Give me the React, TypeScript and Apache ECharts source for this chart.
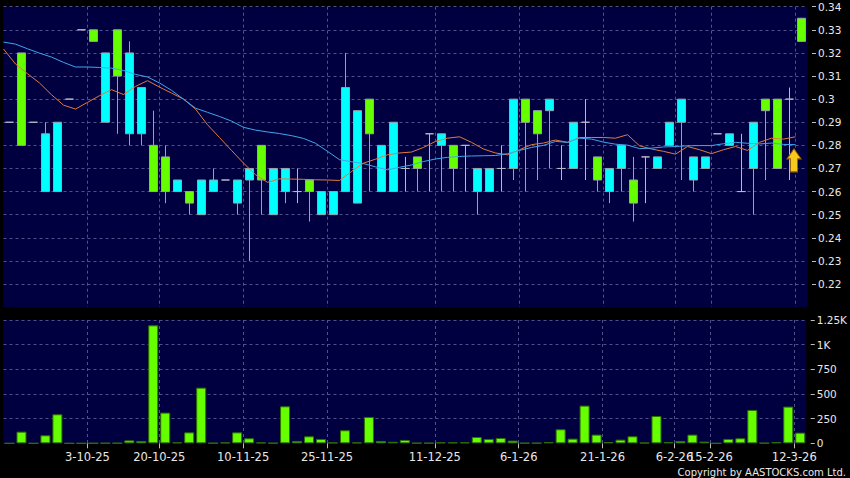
import React, { useEffect, useRef } from 'react';
import * as echarts from 'echarts';

// ---- data ----
const candleOpen = [
  0.29, 0.28, 0.29, 0.285, 0.29, 0.30, 0.33, 0.325, 0.32, 0.31,
  0.32, 0.305, 0.26, 0.26, 0.265, 0.255, 0.265, 0.265, 0.265, 0.265,
  0.27, 0.265, 0.27, 0.27, 0.26, 0.26, 0.26, 0.26, 0.305, 0.295,
  0.285, 0.28, 0.29, 0.27, 0.27, 0.285, 0.285, 0.27, 0.28, 0.27,
  0.27, 0.27, 0.30, 0.29, 0.285, 0.30, 0.27, 0.29, 0.29, 0.265,
  0.27, 0.28, 0.255, 0.275, 0.275, 0.29, 0.30, 0.275, 0.275, 0.285,
  0.285, 0.26, 0.29, 0.295, 0.27, 0.30, 0.325,
];
const candleClose = [
  0.29, 0.32, 0.29, 0.26, 0.26, 0.30, 0.33, 0.33, 0.29, 0.33,
  0.285, 0.285, 0.28, 0.275, 0.26, 0.26, 0.25, 0.26, 0.265, 0.255,
  0.265, 0.28, 0.25, 0.26, 0.26, 0.265, 0.25, 0.25, 0.26, 0.255,
  0.30, 0.26, 0.26, 0.27, 0.275, 0.285, 0.28, 0.28, 0.28, 0.26,
  0.26, 0.27, 0.27, 0.30, 0.295, 0.295, 0.27, 0.27, 0.29, 0.275,
  0.26, 0.27, 0.265, 0.275, 0.27, 0.28, 0.29, 0.265, 0.27, 0.285,
  0.28, 0.26, 0.27, 0.30, 0.30, 0.30, 0.335,
];
const candleLow = [
  0.29, 0.28, 0.29, 0.26, 0.26, 0.30, 0.33, 0.325, 0.29, 0.285,
  0.28, 0.28, 0.26, 0.255, 0.26, 0.25, 0.25, 0.26, 0.265, 0.25,
  0.23, 0.25, 0.25, 0.255, 0.255, 0.247, 0.25, 0.25, 0.26, 0.255,
  0.26, 0.26, 0.26, 0.26, 0.26, 0.26, 0.26, 0.26, 0.26, 0.25,
  0.26, 0.26, 0.265, 0.26, 0.265, 0.27, 0.265, 0.27, 0.265, 0.26,
  0.255, 0.26, 0.247, 0.255, 0.27, 0.28, 0.265, 0.26, 0.27, 0.285,
  0.28, 0.26, 0.25, 0.265, 0.27, 0.265, 0.325,
];
const candleHigh = [
  0.29, 0.32, 0.29, 0.29, 0.29, 0.30, 0.33, 0.33, 0.32, 0.33,
  0.325, 0.305, 0.295, 0.28, 0.265, 0.26, 0.265, 0.27, 0.265, 0.265,
  0.27, 0.28, 0.27, 0.27, 0.27, 0.265, 0.26, 0.26, 0.32, 0.295,
  0.30, 0.28, 0.29, 0.275, 0.275, 0.285, 0.285, 0.28, 0.28, 0.27,
  0.27, 0.28, 0.30, 0.30, 0.295, 0.30, 0.28, 0.29, 0.30, 0.275,
  0.27, 0.28, 0.275, 0.275, 0.275, 0.29, 0.30, 0.275, 0.275, 0.285,
  0.285, 0.285, 0.29, 0.30, 0.30, 0.305, 0.335,
];
const volume = [
  0, 118, 0, 81, 294, 0, 0, 1, 2, 2,
  30, 24, 1196, 311, 10, 111, 564, 2, 8, 111,
  51, 8, 3, 375, 24, 71, 44, 8, 132, 8,
  267, 24, 15, 34, 3, 3, 10, 10, 10, 64,
  44, 54, 27, 3, 3, 12, 142, 47, 382, 88,
  12, 37, 71, 6, 277, 12, 24, 88, 17, 0,
  44, 51, 338, 3, 12, 372, 108,
];
const maFast = [
  0.3217, 0.3152, 0.311, 0.307, 0.3019, 0.2974, 0.2957, 0.2986, 0.3015, 0.3041,
  0.302, 0.3055, 0.308, 0.3052, 0.3026, 0.30, 0.2957, 0.2889, 0.2834, 0.2778,
  0.2723, 0.2673, 0.264, 0.2655, 0.2654, 0.2653, 0.2651, 0.265, 0.2648, 0.2687,
  0.2723, 0.274, 0.2759, 0.2767, 0.2771, 0.2791, 0.2817, 0.2831, 0.2837, 0.2813,
  0.2784, 0.2767, 0.2759, 0.2781, 0.2803, 0.281, 0.2823, 0.2813, 0.2834, 0.2834,
  0.2834, 0.2831, 0.2846, 0.2798, 0.2784, 0.2774, 0.2762, 0.2795, 0.2781, 0.2764,
  0.2781, 0.2795, 0.2778, 0.2813, 0.2831, 0.2827, 0.2837,
];
const maSlow = [
  0.3247, 0.3238, 0.3218, 0.3199, 0.3182, 0.3159, 0.3139, 0.3139, 0.3137, 0.3134,
  0.3124, 0.3107, 0.3096, 0.307, 0.3038, 0.30, 0.2961, 0.2943, 0.2925, 0.2905,
  0.2878, 0.2866, 0.2858, 0.2851, 0.2842, 0.283, 0.2809, 0.2774, 0.2738, 0.2729,
  0.2721, 0.2707, 0.2694, 0.2705, 0.2715, 0.273, 0.2741, 0.2748, 0.2752, 0.2754,
  0.2755, 0.2756, 0.2764, 0.2778, 0.2791, 0.28, 0.2817, 0.2813, 0.2831, 0.2827,
  0.2814, 0.2805, 0.2801, 0.2786, 0.2788, 0.2793, 0.2795, 0.2798, 0.2799, 0.2799,
  0.2807, 0.2813, 0.2809, 0.2806, 0.281, 0.2804, 0.2803,
];
const dateTickIndex = [7, 13, 20, 27, 36, 43, 50, 56, 59, 66];
const dateTickLabels = ['3-10-25', '20-10-25', '10-11-25', '25-11-25', '11-12-25', '6-1-26', '21-1-26', '6-2-26', '15-2-26', '12-3-26'];
const signalIndex = 65;
const signalPrice = 0.2735;
const copyright = 'Copyright by AASTOCKS.com Ltd.';

const FONT = 'DejaVu Sans';
const GRID_LINE = { color: '#50508a', width: 1, type: [3, 3] as number[] };
const NAVY = '#000040';

export default function App() {
  const ref = useRef<HTMLDivElement>(null);

  useEffect(() => {
    if (!ref.current) return;
    const chart = echarts.init(ref.current, undefined, { renderer: 'svg' });

    const sessions = candleOpen.map((_, i) => 'S' + i);
    const bounds = [...sessions, 'S' + sessions.length];
    const isDateTick = (i: number) => dateTickIndex.indexOf(i) >= 0;

    const boundaryAxis = (gridIndex: number, withLabels: boolean) => ({
      type: 'category',
      gridIndex,
      position: 'bottom',
      data: bounds,
      boundaryGap: false,
      axisLine: { show: false },
      axisTick: {
        show: withLabels,
        length: 5,
        interval: (i: number) => isDateTick(i),
        lineStyle: { color: '#bdbdbd' },
      },
      axisLabel: {
        show: withLabels,
        interval: (i: number) => isDateTick(i),
        formatter: (_v: string, i: number) => {
          const j = dateTickIndex.indexOf(i);
          return j >= 0 ? dateTickLabels[j] : '';
        },
        color: '#e8e8e8',
        fontFamily: FONT,
        fontSize: 11.5,
        margin: 8,
      },
      splitLine: { show: true, interval: (i: number) => isDateTick(i), lineStyle: GRID_LINE },
    });

    const yAxisCommon = {
      type: 'value',
      position: 'right',
      offset: 4.5,
      axisLine: { show: false },
      axisTick: { show: true, length: 4, lineStyle: { color: '#bdbdbd' } },
      splitLine: { show: true, showMinLine: false, lineStyle: GRID_LINE },
    };

    chart.setOption({
      animation: false,
      backgroundColor: '#000000',
      grid: [
        { left: 3.5, top: 6.7, width: 804, height: 300.4, show: true, backgroundColor: NAVY, borderWidth: 0 },
        { left: 3.5, top: 320, width: 804, height: 123.3, show: true, backgroundColor: NAVY, borderWidth: 0 },
      ],
      xAxis: [
        { type: 'category', gridIndex: 0, position: 'bottom', data: sessions, boundaryGap: true, show: false },
        { type: 'category', gridIndex: 1, position: 'bottom', data: sessions, boundaryGap: true, show: false },
        boundaryAxis(0, false),
        boundaryAxis(1, true),
      ],
      yAxis: [
        {
          ...yAxisCommon,
          gridIndex: 0,
          min: 0.21,
          max: 0.34,
          interval: 0.01,
          axisLabel: {
            showMinLabel: false,
            color: '#e8e8e8',
            fontFamily: FONT,
            fontSize: 10.5,
            margin: 6,
            formatter: (v: number) => String(Math.round(v * 100) / 100),
          },
        },
        {
          ...yAxisCommon,
          gridIndex: 1,
          min: 0,
          max: 1250,
          interval: 250,
          axisLabel: {
            color: '#e8e8e8',
            fontFamily: FONT,
            fontSize: 10.5,
            margin: 6,
            formatter: (v: number) => (v >= 1000 ? v / 1000 + 'K' : String(v)),
          },
        },
      ],
      series: [
        {
          type: 'candlestick',
          xAxisIndex: 0,
          yAxisIndex: 0,
          barWidth: 9,
          data: candleOpen.map((o, i) => [o, candleClose[i], candleLow[i], candleHigh[i]]),
          itemStyle: {
            color: '#66ff00',
            color0: '#00ffff',
            borderColor: '#98a4a8',
            borderColor0: '#98a4a8',
            borderColorDoji: '#b8b8c8',
            borderWidth: 1,
          },
          markPoint: {
            symbol: 'path://M7,0 L14,10 L10.5,10 L10.5,23 L3.5,23 L3.5,10 L0,10 Z',
            symbolSize: [14, 23],
            symbolOffset: [4.5, 0],
            label: { show: false },
            itemStyle: {
              color: '#f8c81c',
              borderColor: '#9a6400',
              borderWidth: 1,
            },
            data: [{ coord: [signalIndex, signalPrice] }],
          },
        },
        {
          type: 'line',
          xAxisIndex: 2,
          yAxisIndex: 0,
          data: maFast,
          symbol: 'none',
          lineStyle: { color: '#e07a40', width: 1 },
        },
        {
          type: 'line',
          xAxisIndex: 2,
          yAxisIndex: 0,
          data: maSlow,
          symbol: 'none',
          lineStyle: { color: '#3fa6ea', width: 1 },
        },
        {
          type: 'bar',
          xAxisIndex: 1,
          yAxisIndex: 1,
          barWidth: 10,
          data: volume,
          itemStyle: { color: '#66ff00', borderColor: '#2f7000', borderWidth: 1 },
        },
      ],
      graphic: [
        {
          type: 'text',
          x: 846,
          y: 472,
          style: {
            text: copyright,
            fill: '#e8e8e8',
            fontFamily: FONT,
            fontSize: 10,
            align: 'right',
            verticalAlign: 'middle',
          },
        },
      ],
    });

    return () => chart.dispose();
  }, []);

  return (
    <div
      ref={ref}
      style={{ position: 'fixed', left: 0, top: 0, width: 850, height: 478, background: '#000' }}
    />
  );
}
